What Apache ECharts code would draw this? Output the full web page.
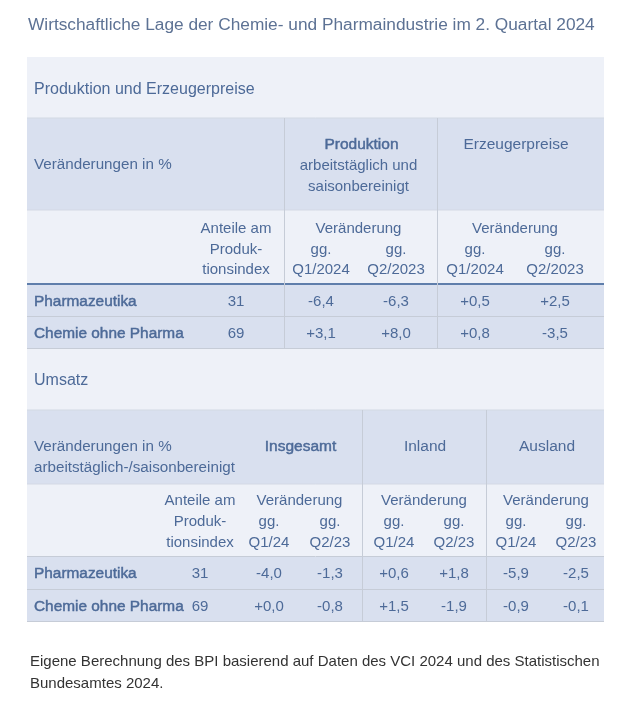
<!DOCTYPE html>
<html>
<head>
<meta charset="utf-8">
<script src="https://cdn.jsdelivr.net/npm/echarts@6/dist/echarts.min.js"></script>
<style>
html,body{margin:0;padding:0;background:#fff;}
#chart{width:630px;height:707px;}
</style>
</head>
<body>
<div id="chart"></div>
<script>
// ---------- DATA ----------
const titleText = 'Wirtschaftliche Lage der Chemie- und Pharmaindustrie im 2. Quartal 2024';
const footnote = 'Eigene Berechnung des BPI basierend auf Daten des VCI 2024 und des Statistischen\nBundesamtes 2024.';

const categories = ['Pharmazeutika', 'Chemie ohne Pharma'];
const shares = [31, 69];
const shareLabel = 'Anteile am\nProduk-\ntionsindex';
const changeLabel = 'Veränderung';

// Section 1: Produktion und Erzeugerpreise
const s1Title = 'Produktion und Erzeugerpreise';
const s1Corner = 'Veränderungen in %';
const s1Groups = ['Produktion', 'Erzeugerpreise'];
const s1GroupNotes = ['arbeitstäglich und\nsaisonbereinigt', ''];
const s1Periods = ['Q1/2024', 'Q2/2023'];
const produktion = [[-6.4, -6.3], [3.1, 8.0]];
const erzeugerpreise = [[0.5, 2.5], [0.8, -3.5]];

// Section 2: Umsatz
const s2Title = 'Umsatz';
const s2Corner = 'Veränderungen in %\narbeitstäglich-/saisonbereinigt';
const s2Groups = ['Insgesamt', 'Inland', 'Ausland'];
const s2Periods = ['Q1/24', 'Q2/23'];
const umsatzInsgesamt = [[-4.0, -1.3], [0.0, -0.8]];
const umsatzInland = [[0.6, 1.8], [1.5, -1.9]];
const umsatzAusland = [[-5.9, -2.5], [-0.9, -0.1]];

// ---------- LAYOUT ----------
const FONT = '"Liberation Sans", Arial, sans-serif';
const C = {
  text: '#4d6a98', title: '#5d7294', dark: '#d9e0ef', light: '#eef1f8',
  grid: '#c6ccd7', blue: '#5f7eab', foot: '#333333'
};
const L = 27, R = 604;
const DY = 2; // baseline correction
const T1 = {
  band: [57, 118], head: [118, 210], sub: [210, 283], rows: [[285, 316], [317, 348]],
  div: [284, 437], shareX: 236, cols: [[321, 396], [475, 555]], groupY: 143,
  titleY: 88, cornerY: 163, subY: 247.5, subLH: 20.5, rowY: [300, 332], blueLine: true
};
const T2 = {
  band: [349, 410], head: [410, 484], sub: [484, 556], rows: [[557, 589], [590, 621]],
  div: [362, 486], shareX: 200, cols: [[269, 330], [394, 454], [516, 576]], groupY: 445,
  titleY: 379, cornerY: 455.5, subY: 520, subLH: 21, rowY: [572, 605], blueLine: false
};

function fmt(v) {
  return (v < 0 ? '-' : '+') + Math.abs(v).toFixed(1).replace('.', ',');
}

const els = [];
function rect(x0, y0, x1, y1, fill) { els.push({ t: 'rect', x0, y0, x1, y1, fill }); }
function line(x0, y0, x1, y1, stroke, w) { els.push({ t: 'line', x0, y0, x1, y1, stroke, w: w || 1 }); }
function text(x, y, s, o) { els.push(Object.assign({ t: 'text', x, y: y + DY, s: String(s), align: 'center', size: 15, medium: false, lh: 21 }, o || {})); }

function buildTable(T, title, corner, groups, notes, periods, groupData) {
  rect(L, T.band[0], R, T.band[1], C.light);
  rect(L, T.head[0], R, T.head[1], C.dark);
  rect(L, T.sub[0], R, T.sub[1], C.light);
  T.rows.forEach(r => rect(L, r[0], R, r[1] + 1, C.dark));
  // horizontal rules
  line(L, T.head[0], R, T.head[0], '#d3d9e4');
  line(L, T.sub[0], R, T.sub[0], '#d3d9e4');
  if (T.blueLine) {
    line(L, T.sub[1] + 1, R, T.sub[1] + 1, C.blue, 2);
  } else {
    line(L, T.sub[1] + 0.5, R, T.sub[1] + 0.5, C.grid);
  }
  T.rows.forEach(r => line(L, r[1] + 0.5, R, r[1] + 0.5, C.grid, 1.2));
  // vertical dividers
  const bottom = T.rows[T.rows.length - 1][1];
  T.div.forEach(x => line(x + 0.5, T.head[0], x + 0.5, bottom, C.grid));
  // texts
  text(34, T.titleY, title, { align: 'left', size: 16 });
  text(34, T.cornerY, corner, { align: 'left', size: 15.2 });
  text(T.shareX, T.subY, shareLabel, { lh: T.subLH });
  groups.forEach((g, i) => {
    const cx = (T.cols[i][0] + T.cols[i][1]) / 2;
    const med = (g === 'Produktion' || g === 'Insgesamt');
    text(cx + (g === 'Produktion' ? 3 : 1), T.groupY, g, { medium: med, size: 15.5 });
    if (notes && notes[i]) text(cx, T.groupY + 31.5, notes[i], { lh: 21 });
    text(cx, T.subY - T.subLH, changeLabel);
    T.cols[i].forEach((x, j) => {
      text(x, T.subY, 'gg.');
      text(x, T.subY + T.subLH, periods[j]);
    });
  });
  categories.forEach((c, r) => {
    const y = T.rowY[r];
    text(34, y, c, { align: 'left', medium: true, size: 15.4 });
    text(T.shareX, y, shares[r]);
    groupData.forEach((gd, i) => {
      gd[r].forEach((v, j) => text(T.cols[i][j], y, fmt(v)));
    });
  });
}

buildTable(T1, s1Title, s1Corner, s1Groups, s1GroupNotes, s1Periods, [produktion, erzeugerpreise]);
buildTable(T2, s2Title, s2Corner, s2Groups, null, s2Periods, [umsatzInsgesamt, umsatzInland, umsatzAusland]);

const chart = echarts.init(document.getElementById('chart'), null, { renderer: 'canvas' });
chart.setOption({
  backgroundColor: '#ffffff',
  animation: false,
  title: [
    { text: titleText, left: 28, top: 15, padding: 0,
      textStyle: { fontFamily: FONT, fontSize: 17.3, fontWeight: 'normal', color: C.title, lineHeight: 20 } },
    { text: footnote, left: 30, top: 651, padding: 0,
      textStyle: { fontFamily: FONT, fontSize: 15, fontWeight: 'normal', color: C.foot, lineHeight: 22 } }
  ],
  grid: { left: 0, right: 0, top: 0, bottom: 0 },
  xAxis: { type: 'value', min: 0, max: 630, show: false },
  yAxis: { type: 'value', min: 0, max: 707, inverse: true, show: false },
  series: [{
    type: 'custom',
    silent: true,
    clip: false,
    data: els.map(e => [e.t === 'text' ? e.x : e.x0, e.t === 'text' ? e.y : e.y0]),
    renderItem: function (params, api) {
      const e = els[params.dataIndex];
      if (e.t === 'rect') {
        const p0 = api.coord([e.x0, e.y0]), p1 = api.coord([e.x1, e.y1]);
        return { type: 'rect', shape: { x: p0[0], y: p0[1], width: p1[0] - p0[0], height: p1[1] - p0[1] },
          style: { fill: e.fill } };
      }
      if (e.t === 'line') {
        const p0 = api.coord([e.x0, e.y0]), p1 = api.coord([e.x1, e.y1]);
        return { type: 'line', z2: 5, shape: { x1: p0[0], y1: p0[1], x2: p1[0], y2: p1[1] },
          style: { stroke: e.stroke, lineWidth: e.w } };
      }
      const p = api.coord([e.x, e.y]);
      const st = { text: e.s, fill: C.text, fontFamily: FONT, fontSize: e.size, fontWeight: 'normal',
        lineHeight: e.lh, align: e.align, verticalAlign: 'middle' };
      if (e.medium) { st.stroke = C.text; st.lineWidth = 0.45; }
      return { type: 'text', z2: 10, x: p[0], y: p[1], style: st };
    }
  }]
});
</script>
</body>
</html>
